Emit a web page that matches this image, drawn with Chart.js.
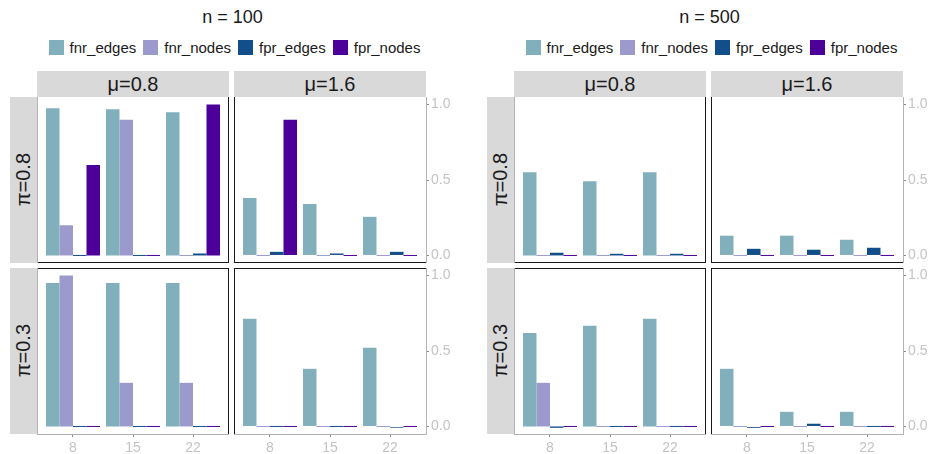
<!DOCTYPE html>
<html>
<head>
<meta charset="utf-8">
<script src="https://cdn.jsdelivr.net/npm/chart.js@4.4.1/dist/chart.umd.min.js"></script>
<style>
  body { margin: 0; background: #fff; font-family: "Liberation Sans", Arial, sans-serif; color: #1a1a1a; }
  #wrap { position: relative; width: 930px; height: 454px; overflow: hidden; }
  .title { position: absolute; top: 5px; width: 445px; text-align: center; font-size: 18px; line-height: 24px; }
  .legend { position: absolute; top: 39px; width: 449px; display: flex; justify-content: center; font-size: 15px; line-height: 17px; }
  .legend .item { display: flex; align-items: center; margin: 0 3.5px; }
  .legend .key { width: 15px; height: 15px; margin-right: 6px; }
  .strip { position: absolute; background: #d9d9d9; display: flex; align-items: center; justify-content: center; font-size: 20px; }
  .strip.row span { writing-mode: vertical-rl; transform: rotate(180deg); }
  .facet { position: absolute; }
</style>
</head>
<body>
<div id="wrap"></div>
<script>
// 공통 데이터
const sizeLabels = ['8', '15', '22'];
const seriesNames = ['fnr_edges', 'fnr_nodes', 'fpr_edges', 'fpr_nodes'];
const seriesColors = ['#82AFBC', '#9C9ACC', '#124E89', '#4C0099'];
const yTicks = [0, 0.5, 1.0];
const muLabels = ['μ=0.8', 'μ=1.6'];
const piLabels = ['π=0.8', 'π=0.3'];

// n = 100 (series 순서: fnr_edges, fnr_nodes, fpr_edges, fpr_nodes)
const n100_pi08_mu08 = [[0.976, 0.969, 0.949], [0.2, 0.9, 0], [0, 0, 0.013], [0.6, 0, 1.0]];
const n100_pi08_mu16 = [[0.381, 0.341, 0.256], [0, 0, 0], [0.024, 0.013, 0.024], [0.9, 0, 0]];
const n100_pi03_mu08 = [[0.951, 0.951, 0.951], [1.0, 0.289, 0.289], [0, 0, 0], [0, 0, 0]];
const n100_pi03_mu16 = [[0.713, 0.382, 0.521], [0, 0, 0], [0, 0, -0.008], [0, 0, 0]];

// n = 500
const n500_pi08_mu08 = [[0.551, 0.491, 0.551], [0, 0, 0], [0.018, 0.011, 0.011], [0, 0, 0]];
const n500_pi08_mu16 = [[0.131, 0.131, 0.104], [0, 0, 0], [0.044, 0.038, 0.051], [0, 0, 0]];
const n500_pi03_mu08 = [[0.62, 0.667, 0.713], [0.289, 0, 0], [-0.009, 0, 0], [0, 0, 0]];
const n500_pi03_mu16 = [[0.382, 0.097, 0.097], [0, 0, 0], [-0.009, 0.018, 0], [0, 0, 0]];

const panels = [
    { title: 'n = 100', x: 10, facets: [[n100_pi08_mu08, n100_pi08_mu16], [n100_pi03_mu08, n100_pi03_mu16]] },
    { title: 'n = 500', x: 487, facets: [[n500_pi08_mu08, n500_pi08_mu16], [n500_pi03_mu08, n500_pi03_mu16]] }
];

const wrap = document.getElementById('wrap');
const FACET_W = 192, FACET_H = 166, STRIP = 27, GAP = 5;
const ROW_TOP = 97;
const AXIS_W = 28, AXIS_H = 22;

Chart.defaults.font.family = '"Liberation Sans", Arial, sans-serif';

// 패널 테두리 (축이 없는 쪽만 그림)
const framePlugin = {
    id: 'frame',
    afterDatasetsDraw(chart, args, opts) {
        const { left, right, top, bottom } = chart.chartArea;
        const ctx = chart.ctx;
        ctx.save();
        ctx.lineWidth = 1;
        const line = (color, x1, y1, x2, y2) => {
            if (!color) return;
            ctx.strokeStyle = color;
            ctx.beginPath();
            ctx.moveTo(x1, y1);
            ctx.lineTo(x2, y2);
            ctx.stroke();
        };
        line(opts.top, left, top + 0.5, right, top + 0.5);
        line(opts.bottom, left, bottom - 0.5, right, bottom - 0.5);
        line(opts.left, left + 0.5, top, left + 0.5, bottom);
        line(opts.right, right - 0.5, top, right - 0.5, bottom);
        ctx.restore();
    }
};

function addDiv(cls, css, html) {
    const d = document.createElement('div');
    d.className = cls;
    Object.assign(d.style, css);
    if (html != null) d.innerHTML = html;
    wrap.appendChild(d);
    return d;
}

function facetChart(values, left, top, row, col) {
    const showX = row === 1;
    const showY = col === 1;
    const box = addDiv('facet', {
        left: left + 'px', top: top + 'px',
        width: (FACET_W + (showY ? AXIS_W : 0)) + 'px',
        height: (FACET_H + (showX ? AXIS_H : 0)) + 'px'
    });
    const canvas = document.createElement('canvas');
    box.appendChild(canvas);

    new Chart(canvas, {
        type: 'bar',
        data: {
            datasets: seriesNames.map((name, i) => ({
                label: name,
                data: values[i].map((v, j) => ({ x: j + 1, y: v })),
                backgroundColor: seriesColors[i],
                borderWidth: 0,
                categoryPercentage: 0.9,
                barPercentage: 1.0,
                minBarLength: 1
            }))
        },
        options: {
            responsive: true,
            maintainAspectRatio: false,
            animation: false,
            layout: { padding: 0 },
            plugins: {
                legend: { display: false },
                tooltip: { enabled: false },
                frame: {
                    top: row === 1 ? '#1a1a1a' : null,
                    bottom: row === 0 ? '#1a1a1a' : null,
                    left: col === 0 ? '#b3b3b3' : '#1a1a1a',
                    right: col === 0 ? '#1a1a1a' : null
                }
            },
            scales: {
                x: {
                    type: 'linear',
                    min: 0.4,
                    max: 3.6,
                    offset: false,
                    display: showX,
                    afterBuildTicks: (s) => { s.ticks = sizeLabels.map((l, i) => ({ value: i + 1 })); },
                    afterFit: (s) => {
                        s.height = showX ? AXIS_H : 0;
                        s.paddingLeft = 0;
                        s.paddingRight = 0;
                    },
                    grid: { offset: false, drawOnChartArea: false, tickLength: 3, color: '#888' },
                    border: { color: '#b3b3b3' },
                    ticks: {
                        autoSkip: false, maxRotation: 0, padding: 3,
                        color: '#c4c4c4', font: { size: 14 },
                        callback: (v) => sizeLabels[v - 1]
                    }
                },
                y: {
                    position: 'right',
                    min: -0.05,
                    max: 1.05,
                    display: showY,
                    afterBuildTicks: (s) => { s.ticks = yTicks.map(v => ({ value: v })); },
                    afterFit: (s) => {
                        s.width = showY ? AXIS_W : 0;
                        s.paddingTop = 0;
                        s.paddingBottom = 0;
                    },
                    grid: { drawOnChartArea: false, tickLength: 3, color: '#888' },
                    border: { color: '#b3b3b3' },
                    ticks: {
                        padding: 2, color: '#c4c4c4', font: { size: 14 },
                        callback: (v) => v.toFixed(1)
                    }
                }
            }
        },
        plugins: [framePlugin]
    });
}

// 패널 그리기
panels.forEach(p => {
    addDiv('title', { left: p.x + 'px' }, p.title);
    const lg = addDiv('legend', { left: p.x + 'px' });
    seriesNames.forEach((name, i) => {
        lg.innerHTML += '<div class="item"><div class="key" style="background:' + seriesColors[i] + '"></div>' + name + '</div>';
    });

    const x0 = p.x + STRIP;
    muLabels.forEach((mu, c) => {
        addDiv('strip', {
            left: (x0 + c * (FACET_W + GAP)) + 'px', top: (ROW_TOP - 26) + 'px',
            width: FACET_W + 'px', height: '26px'
        }, '<span>' + mu + '</span>');
    });
    piLabels.forEach((pi, r) => {
        addDiv('strip row', {
            left: p.x + 'px', top: (ROW_TOP + r * (FACET_H + GAP)) + 'px',
            width: STRIP + 'px', height: FACET_H + 'px'
        }, '<span>' + pi + '</span>');
    });

    p.facets.forEach((rowVals, r) => {
        rowVals.forEach((vals, c) => {
            facetChart(vals, x0 + c * (FACET_W + GAP), ROW_TOP + r * (FACET_H + GAP), r, c);
        });
    });
});
</script>
</body>
</html>
